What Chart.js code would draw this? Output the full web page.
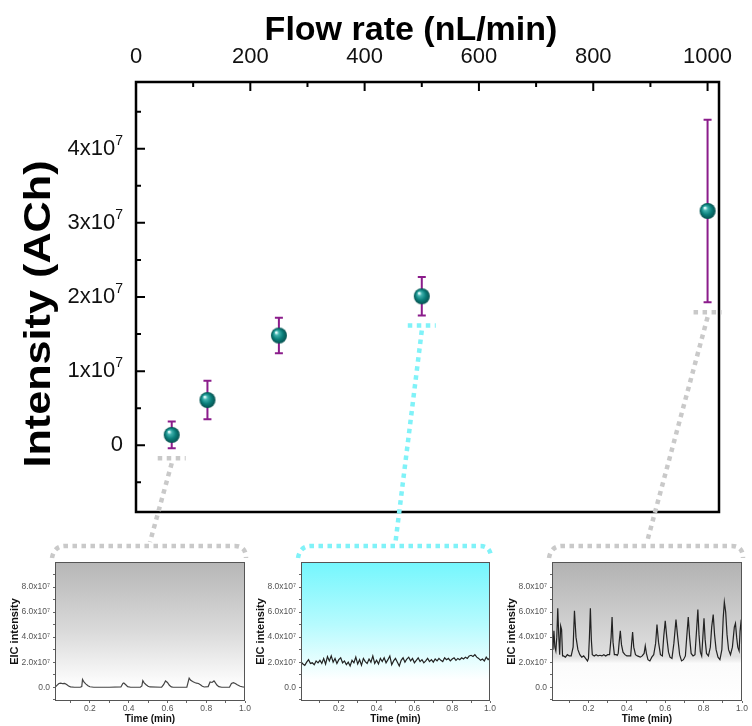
<!DOCTYPE html>
<html>
<head>
<meta charset="utf-8">
<script src="https://cdn.jsdelivr.net/npm/chart.js@4.4.1/dist/chart.umd.min.js"></script>
<style>
  html, body { margin: 0; padding: 0; background: #fff; }
  #wrap { position: relative; width: 752px; height: 726px; }
  #wrap canvas { position: absolute; left: 0; top: 0; }
</style>
</head>
<body>
<div id="wrap">
  <canvas id="main" width="752" height="726"></canvas>
  <canvas id="eic1" width="752" height="726"></canvas>
  <canvas id="eic2" width="752" height="726"></canvas>
  <canvas id="eic3" width="752" height="726"></canvas>
</div>
<script>
const FONT = '"Liberation Sans", Arial, sans-serif';

// main plot: intensity vs flow rate
const flowRates = [62.5, 125, 250, 500, 1000];
const intensity = [1.4e6, 6.1e6, 1.48e7, 2.01e7, 3.16e7];
const intensityErr = [1.8e6, 2.6e6, 2.4e6, 2.6e6, 1.23e7];
const flowTicks = [0, 200, 400, 600, 800, 1000];
const flowMinorTicks = [100, 300, 500, 700, 900];
const intensityTicks = [0, 1e7, 2e7, 3e7, 4e7];
const intensityMinorTicks = [-5e6, 5e6, 1.5e7, 2.5e7, 3.5e7, 4.5e7];

// EIC traces: [time (min), intensity in 1e7]
const eic62 = [
  [0.02, 0.0], [0.03, 0.15], [0.04, 0.3], [0.05, 0.33], [0.06, 0.28], [0.07, 0.3], [0.08, 0.22],
  [0.09, 0.1], [0.10, 0.03], [0.12, 0.0], [0.15, 0.0], [0.158, 0.05], [0.162, 0.62], [0.17, 0.4],
  [0.18, 0.25], [0.19, 0.12], [0.2, 0.04], [0.22, 0.0], [0.3, 0.0], [0.36, 0.02], [0.37, 0.3],
  [0.375, 0.34], [0.385, 0.2], [0.395, 0.05], [0.41, 0.0], [0.46, 0.0], [0.468, 0.1], [0.473, 0.52],
  [0.48, 0.35], [0.49, 0.2], [0.5, 0.08], [0.51, 0.02], [0.57, 0.0], [0.58, 0.2], [0.59, 0.5],
  [0.6, 0.38], [0.61, 0.15], [0.62, 0.03], [0.63, 0.0], [0.7, 0.0], [0.705, 0.3], [0.712, 0.72],
  [0.72, 0.55], [0.73, 0.45], [0.74, 0.38], [0.75, 0.32], [0.76, 0.3], [0.77, 0.2], [0.78, 0.08],
  [0.79, 0.02], [0.81, 0.05], [0.82, 0.42], [0.83, 0.38], [0.84, 0.5], [0.845, 0.4], [0.855, 0.18],
  [0.865, 0.05], [0.88, 0.0], [0.92, 0.0], [0.93, 0.3], [0.94, 0.37], [0.95, 0.3], [0.96, 0.2],
  [0.975, 0.08], [0.99, 0.02], [1.0, 0.0]
];
const eic500 = [
  [0.00, 2.05], [0.01, 1.85], [0.02, 1.75], [0.03, 2.0], [0.04, 2.2], [0.05, 1.9], [0.06, 1.95],
  [0.07, 1.8], [0.08, 2.1], [0.09, 1.95], [0.10, 2.15], [0.11, 1.9], [0.12, 2.3], [0.13, 1.85],
  [0.14, 2.45], [0.15, 2.1], [0.16, 2.5], [0.17, 2.0], [0.18, 2.3], [0.19, 1.9], [0.20, 2.2],
  [0.21, 2.35], [0.22, 1.95], [0.23, 2.1], [0.24, 1.8], [0.25, 2.0], [0.26, 1.7], [0.27, 2.15],
  [0.28, 1.95], [0.29, 2.4], [0.30, 1.85], [0.31, 2.2], [0.32, 1.75], [0.33, 2.3], [0.34, 2.05],
  [0.35, 1.9], [0.36, 2.25], [0.37, 2.0], [0.38, 2.5], [0.39, 1.9], [0.40, 2.15], [0.41, 1.85],
  [0.42, 2.3], [0.43, 2.05], [0.44, 2.35], [0.45, 1.95], [0.46, 2.2], [0.47, 2.5], [0.48, 1.8],
  [0.49, 2.1], [0.50, 2.3], [0.51, 2.0], [0.52, 1.7], [0.53, 2.15], [0.54, 2.35], [0.55, 2.0],
  [0.56, 2.25], [0.57, 2.4], [0.58, 2.1], [0.59, 2.3], [0.60, 1.95], [0.61, 2.15], [0.62, 2.35],
  [0.63, 2.05], [0.64, 2.2], [0.65, 1.95], [0.66, 2.1], [0.67, 2.3], [0.68, 2.05], [0.69, 2.2],
  [0.70, 2.0], [0.71, 2.25], [0.72, 2.1], [0.73, 2.3], [0.74, 2.15], [0.75, 2.05], [0.76, 2.35],
  [0.77, 2.2], [0.78, 2.3], [0.79, 2.1], [0.80, 2.25], [0.81, 2.35], [0.82, 2.15], [0.83, 2.3],
  [0.84, 2.2], [0.85, 2.35], [0.86, 2.25], [0.87, 2.4], [0.88, 2.3], [0.89, 2.5], [0.90, 2.55],
  [0.91, 2.45], [0.92, 2.6], [0.93, 2.4], [0.94, 2.3], [0.95, 2.15], [0.96, 2.25], [0.97, 2.1],
  [0.98, 2.4], [0.99, 2.2], [1.00, 2.35]
];
const eic1000 = [
  [0.01, 3.4], [0.015, 3.0], [0.02, 4.5], [0.025, 3.2], [0.03, 2.9], [0.035, 4.0], [0.04, 6.3],
  [0.045, 4.2], [0.05, 2.6], [0.055, 4.9], [0.06, 4.6], [0.065, 2.5], [0.07, 2.5], [0.08, 2.4],
  [0.09, 2.6], [0.10, 2.5], [0.11, 2.5], [0.12, 3.2], [0.127, 6.1], [0.135, 4.0], [0.145, 3.0],
  [0.155, 2.6], [0.165, 2.4], [0.175, 2.5], [0.185, 2.3], [0.195, 2.1], [0.2, 2.3], [0.205, 4.0],
  [0.21, 6.3], [0.215, 3.8], [0.22, 2.6], [0.23, 2.5], [0.24, 2.6], [0.25, 2.5], [0.26, 2.55],
  [0.27, 2.5], [0.28, 2.6], [0.29, 2.5], [0.3, 2.6], [0.31, 2.6], [0.318, 4.0], [0.323, 5.6],
  [0.328, 3.6], [0.335, 2.6], [0.345, 2.6], [0.35, 2.55], [0.355, 2.7], [0.36, 3.6], [0.366, 4.5],
  [0.372, 3.4], [0.38, 2.8], [0.39, 2.6], [0.4, 2.5], [0.41, 2.5], [0.42, 2.5], [0.425, 3.5],
  [0.43, 4.4], [0.436, 3.2], [0.445, 2.6], [0.455, 2.5], [0.47, 2.4], [0.48, 2.5], [0.49, 2.7],
  [0.496, 3.3], [0.502, 2.7], [0.51, 2.2], [0.52, 2.1], [0.53, 2.4], [0.54, 2.6], [0.55, 3.5],
  [0.557, 5.0], [0.565, 3.6], [0.575, 2.6], [0.585, 2.5], [0.592, 4.0], [0.6, 5.3], [0.608, 4.0],
  [0.617, 2.8], [0.625, 2.4], [0.635, 2.3], [0.645, 3.5], [0.656, 5.4], [0.665, 4.0], [0.675, 2.6],
  [0.685, 2.1], [0.695, 2.2], [0.705, 2.5], [0.712, 4.0], [0.72, 5.6], [0.727, 4.0], [0.735, 2.7],
  [0.745, 2.5], [0.755, 2.6], [0.763, 4.5], [0.77, 6.2], [0.776, 4.2], [0.783, 2.8], [0.79, 2.5],
  [0.796, 4.0], [0.802, 5.5], [0.808, 3.8], [0.815, 2.7], [0.825, 2.5], [0.835, 3.2], [0.842, 4.8],
  [0.85, 5.8], [0.857, 4.2], [0.865, 3.0], [0.875, 2.4], [0.885, 2.2], [0.895, 3.0], [0.902, 5.5],
  [0.908, 6.8], [0.915, 6.0], [0.922, 4.2], [0.93, 3.0], [0.94, 2.6], [0.95, 3.2], [0.96, 4.8],
  [0.966, 5.1], [0.972, 4.0], [0.978, 3.2], [0.985, 2.9], [0.99, 4.5], [0.996, 5.4], [1.0, 3.2]
];
const timeTicks = [0.2, 0.4, 0.6, 0.8, 1.0];
const timeMinorTicks = [0.1, 0.3, 0.5, 0.7, 0.9];
const eicTicks = [0, 2e7, 4e7, 6e7, 8e7];
const eicMinorTicks = [-1e7, 1e7, 3e7, 5e7, 7e7, 9e7];

// layout of the page (pixels)
const mainBox = { left: 136, top: 82, right: 719, bottom: 512 };
const insetBoxes = [
  { left: 55, top: 562, right: 245, bottom: 701 },
  { left: 301, top: 562, right: 490, bottom: 701 },
  { left: 552, top: 562, right: 742, bottom: 701 }
];
const callouts = [
  { point: 0, inset: 0, color: '#c9c9c9' },
  { point: 3, inset: 1, color: '#80f2f8' },
  { point: 4, inset: 2, color: '#c9c9c9' }
];

// shaded teal ball used as the point marker
function makeSphere(r) {
  const c = document.createElement('canvas');
  c.width = c.height = r * 2 + 2;
  const g = c.getContext('2d');
  const m = r + 1;
  const grad = g.createRadialGradient(m - r * 0.35, m - r * 0.4, r * 0.08, m, m, r);
  grad.addColorStop(0, '#e6ffff');
  grad.addColorStop(0.22, '#40b2ae');
  grad.addColorStop(0.6, '#0b7f7b');
  grad.addColorStop(1, '#05504e');
  g.fillStyle = grad;
  g.beginPath();
  g.arc(m, m, r, 0, Math.PI * 2);
  g.fill();
  return c;
}

const mainDecor = {
  id: 'mainDecor',
  beforeDatasetsDraw(chart) {
    const { ctx, chartArea: a, scales: { x, y } } = chart;
    ctx.save();
    // error bars
    ctx.strokeStyle = '#8b1c8b';
    ctx.lineWidth = 2;
    flowRates.forEach((f, i) => {
      const px = x.getPixelForValue(f);
      const top = y.getPixelForValue(intensity[i] + intensityErr[i]);
      const bot = y.getPixelForValue(intensity[i] - intensityErr[i]);
      ctx.beginPath();
      ctx.moveTo(px, top); ctx.lineTo(px, bot);
      ctx.moveTo(px - 4, top); ctx.lineTo(px + 4, top);
      ctx.moveTo(px - 4, bot); ctx.lineTo(px + 4, bot);
      ctx.stroke();
    });
    // frame and inward ticks
    ctx.strokeStyle = '#000';
    ctx.lineWidth = 2.5;
    ctx.strokeRect(a.left, a.top, a.right - a.left, a.bottom - a.top);
    ctx.lineWidth = 2;
    ctx.beginPath();
    flowTicks.concat(flowMinorTicks).forEach(v => {
      const px = x.getPixelForValue(v);
      const len = flowTicks.includes(v) ? 9 : 5;
      ctx.moveTo(px, a.top); ctx.lineTo(px, a.top + len);
    });
    intensityTicks.concat(intensityMinorTicks).forEach(v => {
      const py = y.getPixelForValue(v);
      const len = intensityTicks.includes(v) ? 9 : 5;
      ctx.moveTo(a.left, py); ctx.lineTo(a.left + len, py);
    });
    ctx.stroke();
    // y tick labels with raised exponent
    ctx.fillStyle = '#111';
    ctx.textBaseline = 'middle';
    const right = a.left - 13;
    intensityTicks.forEach(v => {
      const py = y.getPixelForValue(v);
      if (v === 0) {
        ctx.font = '22px ' + FONT;
        ctx.textAlign = 'right';
        ctx.fillText('0', right, py);
        return;
      }
      ctx.font = '14px ' + FONT;
      const supW = ctx.measureText('7').width;
      ctx.textAlign = 'left';
      ctx.fillText('7', right - supW, py - 8);
      ctx.font = '22px ' + FONT;
      ctx.textAlign = 'right';
      ctx.fillText((v / 1e7) + 'x10', right - supW, py);
    });
    ctx.restore();
  },
  afterDraw(chart) {
    const { ctx, scales: { x, y } } = chart;
    ctx.save();
    // dotted call-outs to the EIC panels
    ctx.lineWidth = 4.5;
    ctx.setLineDash([4.5, 4.5]);
    callouts.forEach(c => {
      const box = insetBoxes[c.inset];
      const px = x.getPixelForValue(flowRates[c.point]);
      const by = y.getPixelForValue(intensity[c.point] - intensityErr[c.point]) + 10;
      const cx = (box.left + box.right) / 2;
      const hy = box.top - 16;
      ctx.strokeStyle = c.color;
      ctx.beginPath();
      ctx.moveTo(px - 14, by); ctx.lineTo(px + 14, by);
      ctx.stroke();
      ctx.beginPath();
      ctx.moveTo(px, by + 5); ctx.lineTo(cx, hy - 4);
      ctx.stroke();
      ctx.beginPath();
      ctx.moveTo(box.left - 3, box.top - 4);
      ctx.quadraticCurveTo(box.left - 1, hy, box.left + 10, hy);
      ctx.lineTo(box.right - 10, hy);
      ctx.quadraticCurveTo(box.right + 1, hy, box.right + 1, box.top - 4);
      ctx.stroke();
    });
    ctx.setLineDash([]);
    // axis titles
    ctx.fillStyle = '#000';
    ctx.textAlign = 'center';
    ctx.textBaseline = 'middle';
    ctx.font = 'bold 34px ' + FONT;
    ctx.fillText('Flow rate (nL/min)', 411, 31);
    ctx.translate(40, 314);
    ctx.rotate(-Math.PI / 2);
    ctx.scale(1.2, 1);
    ctx.font = 'bold 36px ' + FONT;
    ctx.fillText('Intensity (ACh)', 0, 0);
    ctx.restore();
  }
};

new Chart(document.getElementById('main'), {
  type: 'scatter',
  data: {
    datasets: [{
      data: flowRates.map((f, i) => ({ x: f, y: intensity[i] })),
      pointStyle: makeSphere(8),
      pointRadius: 8,
      showLine: false
    }]
  },
  options: {
    responsive: false,
    animation: false,
    layout: { padding: { left: 0, top: 0, right: 752 - mainBox.right, bottom: 726 - mainBox.bottom } },
    plugins: { legend: { display: false }, tooltip: { enabled: false } },
    scales: {
      x: {
        type: 'linear', position: 'top', min: 0, max: 1020,
        afterBuildTicks: s => { s.ticks = flowTicks.map(v => ({ value: v })); },
        afterFit: s => { s.height = mainBox.top; },
        grid: { display: false, drawTicks: false },
        border: { display: false },
        ticks: { font: { family: FONT, size: 22 }, color: '#111', padding: 12, maxRotation: 0, callback: v => String(v) }
      },
      y: {
        type: 'linear', min: -9e6, max: 4.9e7,
        afterBuildTicks: s => { s.ticks = intensityTicks.map(v => ({ value: v })); },
        afterFit: s => { s.width = mainBox.left; },
        grid: { display: false, drawTicks: false },
        border: { display: false },
        ticks: { display: false }
      }
    }
  },
  plugins: [mainDecor]
});

const insetBg = {
  id: 'insetBg',
  beforeDatasetsDraw(chart, args, opts) {
    const { ctx, chartArea: a } = chart;
    const g = ctx.createLinearGradient(0, a.top, 0, a.bottom);
    opts.stops.forEach(s => g.addColorStop(s[0], s[1]));
    ctx.save();
    ctx.fillStyle = g;
    ctx.fillRect(a.left, a.top, a.right - a.left, a.bottom - a.top);
    ctx.restore();
  },
  afterDatasetsDraw(chart) {
    const { ctx, chartArea: a } = chart;
    ctx.save();
    ctx.strokeStyle = '#555';
    ctx.lineWidth = 1;
    ctx.strokeRect(a.left + 0.5, a.top + 0.5, a.right - a.left - 1, a.bottom - a.top - 1);
    ctx.restore();
  }
};

function drawInset(id, trace, box, xMin, stops, lineColor) {
  new Chart(document.getElementById(id), {
    type: 'line',
    data: {
      datasets: [{
        data: trace.map(p => ({ x: p[0], y: p[1] * 1e7 })),
        borderColor: lineColor, borderWidth: 1.2, pointRadius: 0, tension: 0
      }]
    },
    options: {
      responsive: false,
      animation: false,
      layout: { padding: { left: box.left - 48, top: box.top, right: 752 - box.right, bottom: 726 - box.bottom - 24 } },
      plugins: { legend: { display: false }, tooltip: { enabled: false }, insetBg: { stops: stops } },
      scales: {
        x: {
          type: 'linear', min: xMin, max: 1.0,
          afterBuildTicks: s => { s.ticks = timeTicks.concat(timeMinorTicks).sort((a, b) => a - b).map(v => ({ value: v })); },
          afterFit: s => { s.height = 24; },
          grid: { drawOnChartArea: false, tickLength: 2, color: '#666' },
          border: { display: false },
          ticks: {
            font: { family: FONT, size: 8.5 }, color: '#555', padding: 1, maxRotation: 0, autoSkip: false,
            callback: v => timeTicks.includes(v) ? v.toFixed(1) : ''
          },
          title: { display: true, text: 'Time (min)', font: { family: FONT, size: 10, weight: 'bold' }, color: '#111', padding: 0 }
        },
        y: {
          type: 'linear', min: -1.1e7, max: 1e8,
          afterBuildTicks: s => { s.ticks = eicTicks.concat(eicMinorTicks).sort((a, b) => a - b).map(v => ({ value: v })); },
          afterFit: s => { s.width = 48; },
          grid: { drawOnChartArea: false, tickLength: 2, color: '#666' },
          border: { display: false },
          ticks: {
            font: { family: FONT, size: 8.5 }, color: '#555', padding: 3, autoSkip: false,
            callback: v => !eicTicks.includes(v) ? '' : (v === 0 ? '0.0' : (v / 1e7).toFixed(1) + 'x10\u2077')
          },
          title: { display: true, text: 'EIC intensity', font: { family: FONT, size: 11, weight: 'bold' }, color: '#111', padding: { top: 1, bottom: 0 } }
        }
      }
    },
    plugins: [insetBg]
  });
}

drawInset('eic1', eic62, insetBoxes[0], 0.02,
  [[0, '#b6b6b6'], [0.5, '#dadada'], [0.9, '#ffffff'], [1, '#ffffff']], '#444');
drawInset('eic2', eic500, insetBoxes[1], 0.0,
  [[0, '#74f6fd'], [0.45, '#b6fbfe'], [0.85, '#ffffff'], [1, '#ffffff']], '#222');
drawInset('eic3', eic1000, insetBoxes[2], 0.01,
  [[0, '#b2b2b2'], [0.68, '#e0e0e0'], [0.73, '#fbfbfb'], [1, '#ffffff']], '#222');
</script>
</body>
</html>
